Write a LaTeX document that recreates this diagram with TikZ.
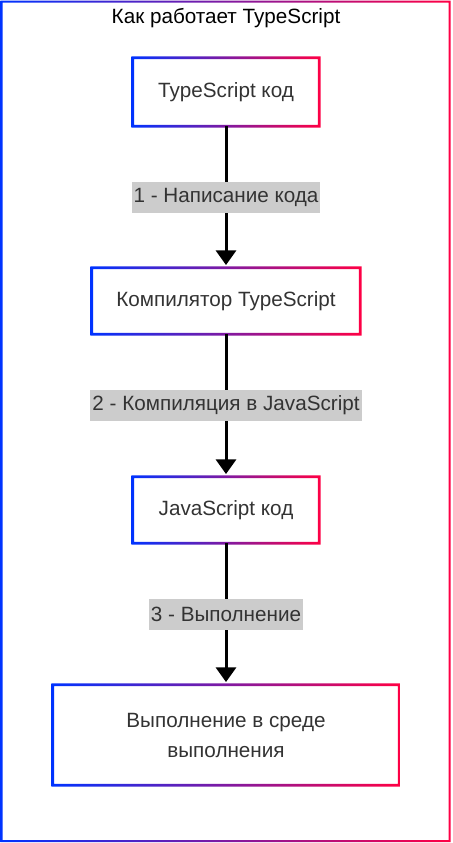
\documentclass[tikz,border=0pt]{standalone}
\usepackage{fontspec}
\setmainfont{Liberation Sans}
\usetikzlibrary{arrows.meta,shadows}
\definecolor{tsblue}{RGB}{0,51,255}
\definecolor{tsred}{RGB}{255,0,68}
\definecolor{txtgray}{RGB}{51,51,51}

\begin{document}
\begin{tikzpicture}[x=0.75pt,y=-0.75pt,
    stepbox/.style={fill=white, text=txtgray, align=center, inner sep=0pt,
      font=\fontsize{15.5}{22.5}\selectfont,
      drop shadow={opacity=0.12, shadow xshift=0.5pt, shadow yshift=-0.8pt}},
    steplabel/.style={fill=gray!40, text=txtgray, inner xsep=1.5pt,
      font=\fontsize{15.5}{18}\selectfont, minimum height=23.25pt},
    flow/.style={line width=2.25pt, -{Triangle[width=15pt,length=11pt]}, shorten >=2pt}]
    \useasboundingbox (0,0) rectangle (453,843);
    % Rama exterior amb degradat
    \shade[left color=tsblue, right color=tsred, even odd rule]
        (0.5,0.5) rectangle (450.5,842) (2.5,2.5) rectangle (448.5,840);
    \node[font=\fontsize{15.5}{18}\selectfont] (title) at (226,18) {Как работает TypeScript};
    % Passos
    \node[stepbox, minimum width=139.5pt, minimum height=51pt]  (tscode) at (226,92)  {TypeScript код};
    \node[stepbox, minimum width=201pt,   minimum height=49.5pt] (compiler) at (226,301) {Компилятор TypeScript};
    \node[stepbox, minimum width=139.5pt, minimum height=49.5pt] (jscode) at (226,510) {JavaScript код};
    \node[stepbox, minimum width=259.5pt, minimum height=75pt]  (runtime) at (226,735) {Выполнение в среде\\выполнения};
    % Vores amb degradat
    \foreach \n in {tscode,compiler,jscode,runtime}
        \shade[left color=tsblue, right color=tsred, even odd rule]
            ([shift={(-1pt,-1pt)}]\n.south west) rectangle ([shift={(1pt,1pt)}]\n.north east)
            ([shift={(1pt,1pt)}]\n.south west) rectangle ([shift={(-1pt,-1pt)}]\n.north east);
    % Fletxes
    \draw[flow] (tscode) -- (compiler) node[midway, steplabel] {1 - Написание кода};
    \draw[flow] (compiler) -- (jscode) node[midway, steplabel] {2 - Компиляция в JavaScript};
    \draw[flow] (jscode) -- (runtime) node[midway, steplabel] {3 - Выполнение};
\end{tikzpicture}
\end{document}
